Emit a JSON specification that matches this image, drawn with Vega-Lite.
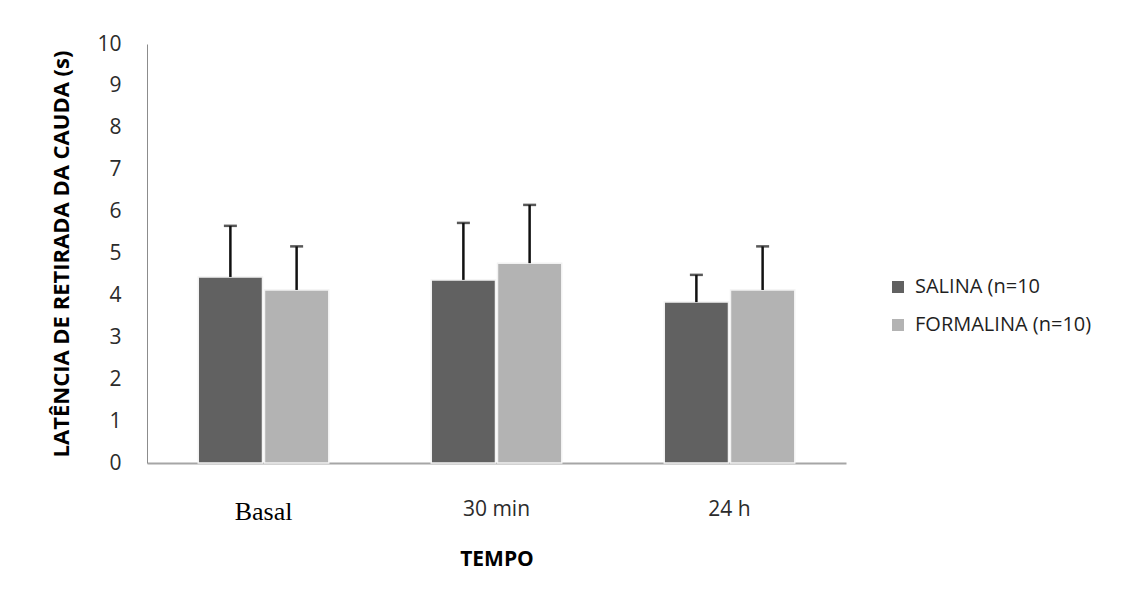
{
  "$schema": "https://vega.github.io/schema/vega-lite/v6.json",
  "width": 699,
  "height": 419,
  "autosize": {"type": "none"},
  "padding": {"left": 147, "top": 44, "right": 285, "bottom": 132},
  "background": "white",
  "config": {"view": {"stroke": null}},
  "data": {
    "values": [
      {"tempo": "Basal", "grupo": "SALINA (n=10", "media": 4.44, "superior": 5.66},
      {"tempo": "Basal", "grupo": "FORMALINA (n=10)", "media": 4.13, "superior": 5.17},
      {"tempo": "30 min", "grupo": "SALINA (n=10", "media": 4.37, "superior": 5.73},
      {"tempo": "30 min", "grupo": "FORMALINA (n=10)", "media": 4.77, "superior": 6.16},
      {"tempo": "24 h", "grupo": "SALINA (n=10", "media": 3.84, "superior": 4.49},
      {"tempo": "24 h", "grupo": "FORMALINA (n=10)", "media": 4.13, "superior": 5.17}
    ]
  },
  "encoding": {
    "x": {
      "field": "tempo",
      "type": "nominal",
      "sort": ["Basal", "30 min", "24 h"],
      "scale": {"paddingInner": 0.44, "paddingOuter": 0.22},
      "axis": {
        "title": "TEMPO",
        "titleFont": "Open Sans",
        "titleFontWeight": "bold",
        "titleFontSize": 21,
        "titleColor": "#000000",
        "titleY": 85,
        "titleBaseline": "top",
        "labelAngle": 0,
        "labelFont": {"condition": {"test": "datum.value == 'Basal'", "value": "Liberation Serif"}, "value": "Open Sans"},
        "labelFontSize": {"condition": {"test": "datum.value == 'Basal'", "value": 26}, "value": 21},
        "labelColor": {"condition": {"test": "datum.value == 'Basal'", "value": "#000000"}, "value": "#2b2b2b"},
        "labelBaseline": "top",
        "labelPadding": 35,
        "ticks": false,
        "tickSize": 0,
        "domainColor": "#a6a6a6",
        "domainWidth": 2,
        "grid": false
      }
    },
    "xOffset": {
      "field": "grupo",
      "type": "nominal",
      "sort": ["SALINA (n=10", "FORMALINA (n=10)"],
      "scale": {"paddingInner": 0.03}
    }
  },
  "layer": [
    {
      "mark": {"type": "bar", "stroke": "#f2f2f2", "strokeWidth": 1.5},
      "encoding": {
        "y": {
          "field": "media",
          "type": "quantitative",
          "scale": {"domain": [0, 10]},
          "axis": {
            "title": "LATÊNCIA DE RETIRADA DA CAUDA (s)",
            "titleFont": "Open Sans",
            "titleFontWeight": "bold",
            "titleFontSize": 22,
            "titleColor": "#000000",
            "titleAngle": -90,
            "titleX": -86,
            "titleY": 209.5,
            "titleAlign": "center",
            "titleBaseline": "middle",
            "values": [0, 1, 2, 3, 4, 5, 6, 7, 8, 9, 10],
            "labelFont": "Open Sans",
            "labelFontSize": 21,
            "labelColor": "#2b2b2b",
            "labelPadding": 26,
            "ticks": false,
            "tickSize": 0,
            "domainColor": "#8c8c8c",
            "domainWidth": 1,
            "grid": false
          }
        },
        "color": {
          "field": "grupo",
          "type": "nominal",
          "sort": ["SALINA (n=10", "FORMALINA (n=10)"],
          "scale": {"domain": ["SALINA (n=10", "FORMALINA (n=10)"], "range": ["#616161", "#b3b3b3"]},
          "legend": {
            "title": null,
            "orient": "none",
            "legendX": 741,
            "legendY": 233,
            "symbolType": "square",
            "symbolSize": 144,
            "symbolStrokeWidth": 0,
            "labelFont": "Open Sans",
            "labelFontSize": 20,
            "labelColor": "#1f1f1f",
            "labelOffset": 7,
            "labelLimit": 300,
            "rowPadding": 18
          }
        }
      }
    },
    {
      "mark": {"type": "rule", "color": "#111111", "strokeWidth": 2.5},
      "encoding": {
        "y": {"field": "media", "type": "quantitative"},
        "y2": {"field": "superior"}
      }
    },
    {
      "mark": {"type": "tick", "orient": "horizontal", "color": "#111111", "thickness": 2.5, "size": 13},
      "encoding": {
        "y": {"field": "superior", "type": "quantitative"}
      }
    }
  ]
}
